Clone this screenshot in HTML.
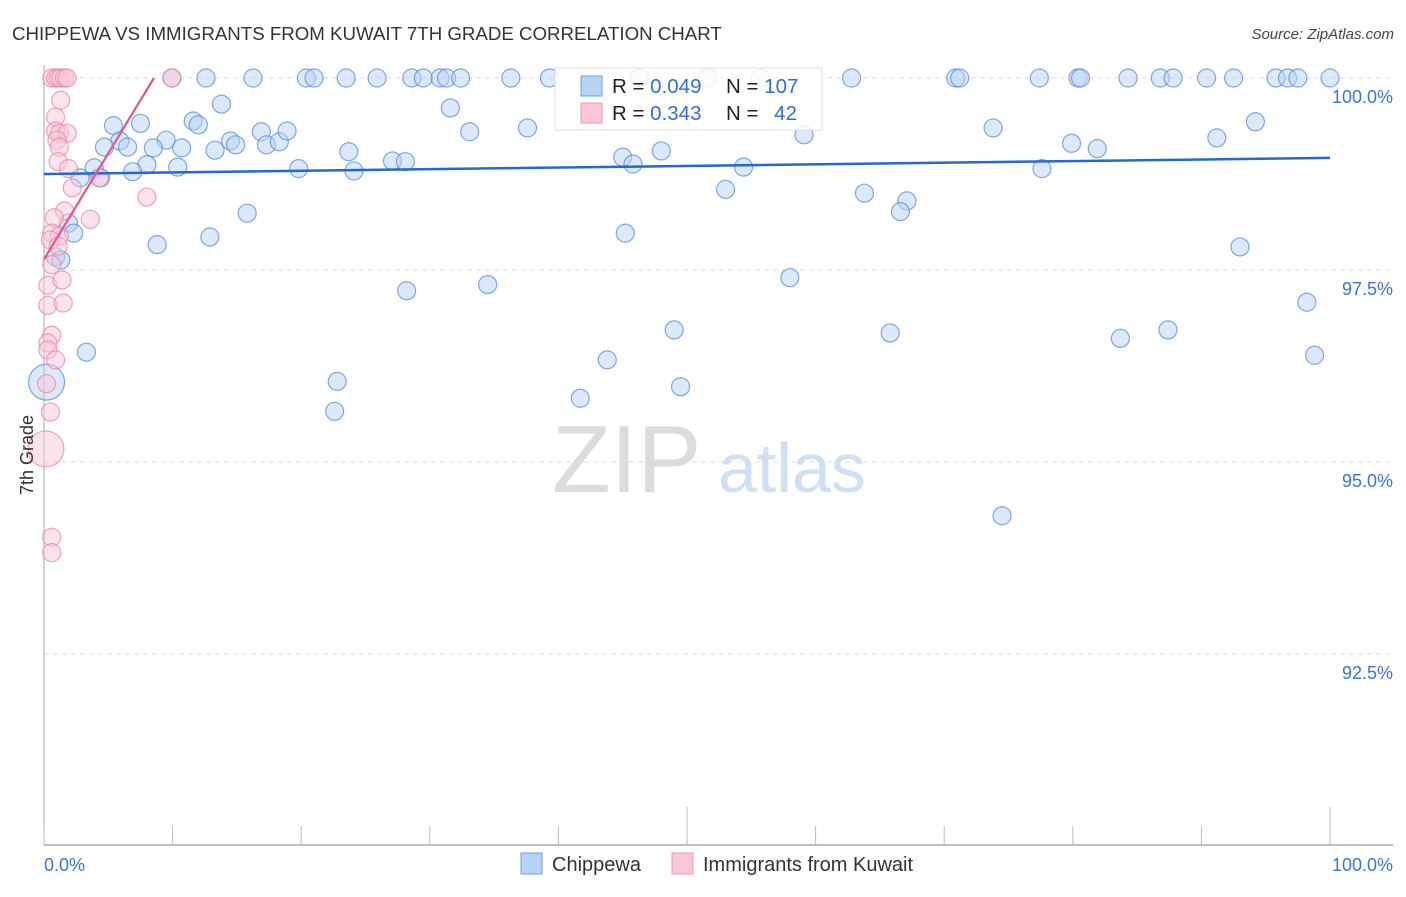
<!DOCTYPE html>
<html><head><meta charset="utf-8"><style>
body{margin:0;background:#fff;font-family:"Liberation Sans",sans-serif}
svg text{font-family:"Liberation Sans",sans-serif}
</style></head><body>
<svg id="chart" width="1406" height="892" viewBox="0 0 1406 892" xmlns="http://www.w3.org/2000/svg">
<text x="12" y="40" font-size="18.7" fill="#333">CHIPPEWA VS IMMIGRANTS FROM KUWAIT 7TH GRADE CORRELATION CHART</text>
<text x="1394" y="39" font-size="15" fill="#444" font-style="italic" text-anchor="end">Source: ZipAtlas.com</text>
<g>
<text x="552" y="492" font-size="96" font-family="Liberation Serif" fill="#dcdcdc">ZIP</text>
<text x="718" y="492" font-size="70" fill="#cfe0f5">atlas</text>
</g>
<g id="grid"></g>
<g id="axes"></g>
<g id="blue"></g>
<g id="pink"></g>
<g id="trends"></g>
<g>
<rect x="555" y="68" width="267" height="62" fill="#fff" fill-opacity="0.85" stroke="#ddd"/>
<rect x="581" y="76" width="21" height="20" fill="#b8d4f5" stroke="#6a9ee0"/>
<rect x="581" y="103" width="21" height="20" fill="#fcc8d8" stroke="#eb9ab3"/>
<text x="612" y="93" font-size="20.5" fill="#222">R = <tspan fill="#2f6fd6">0.049</tspan></text>
<text x="726" y="93" font-size="20.5" fill="#222">N = <tspan fill="#2f6fd6">107</tspan></text>
<text x="612" y="120" font-size="20.5" fill="#222">R = <tspan fill="#2f6fd6"> 0.343</tspan></text>
<text x="726" y="120" font-size="20.5" fill="#222">N = <tspan fill="#2f6fd6" dx="10">42</tspan></text>
</g>
<g>
<rect x="521" y="853" width="21" height="21" fill="#b8d4f5" stroke="#6a9ee0"/>
<text x="552" y="871" font-size="20" fill="#333">Chippewa</text>
<rect x="672" y="853" width="21" height="21" fill="#fcc8d8" stroke="#eb9ab3"/>
<text x="703" y="871" font-size="20" fill="#333">Immigrants from Kuwait</text>
</g>
<text transform="translate(33,455) rotate(-90)" font-size="18" fill="#333" text-anchor="middle">7th Grade</text>
</svg>
<script>
const yTicks=[100,97.5,95,92.5];
const yTickLabels=["100.0%","97.5%","95.0%","92.5%"];
const xTicks=[0,10,20,30,40,50,60,70,80,90,100];
const blueX=[9.95,12.6,16.25,20.4,21.0,23.5,25.9,28.6,29.5,30.8,31.3,32.4,36.3,39.3,46.3,51.6,55.7,62.8,70.9,71.2,77.4,80.4,80.6,84.3,86.8,87.8,90.4,92.5,95.8,96.7,97.5,100,
13.8,31.6,5.4,7.5,11.6,12.0,9.5,5.9,4.7,6.5,8.5,10.7,13.3,14.5,14.9,16.9,17.3,18.3,18.9,33.1,37.6,59.1,73.8,91.2,94.2,79.9,81.9,23.7,27.1,28.1,45.0,45.8,48.0,54.4,10.4,8.0,3.9,6.9,19.8,24.1,2.8,4.4,77.6,53.0,63.8,67.1,66.6,15.8,1.9,2.3,12.9,8.8,45.2,93.0,0.9,1.3,58.0,34.5,28.2,98.2,49.0,65.8,87.4,83.7,3.3,43.8,98.8,22.8,49.5,41.7,22.6,74.5,0.2];
const blueY=[100,100,100,100,100,100,100,100,100,100,100,100,100,100,100,100,100,100,100,100,100,100,100,100,100,100,100,100,100,100,100,100,
99.66,99.61,99.38,99.41,99.44,99.39,99.19,99.18,99.10,99.10,99.09,99.09,99.06,99.18,99.13,99.30,99.13,99.17,99.31,99.30,99.35,99.26,99.35,99.22,99.43,99.15,99.08,99.04,98.92,98.91,98.97,98.88,99.05,98.84,98.84,98.87,98.83,98.78,98.82,98.79,98.70,98.70,98.82,98.55,98.50,98.40,98.26,98.24,98.11,97.98,97.93,97.83,97.98,97.80,97.67,97.63,97.40,97.31,97.23,97.08,96.72,96.68,96.72,96.61,96.43,96.33,96.39,96.05,95.98,95.83,95.66,94.30,96.04];
const pinkX=[0.6,0.9,1.1,1.3,1.6,1.8,9.95,1.3,0.9,0.9,1.2,1.8,1.0,1.2,1.1,1.9,2.2,4.3,8.0,1.6,3.6,0.8,0.6,1.2,0.5,1.1,0.6,0.3,1.4,0.3,1.5,0.6,0.3,0.3,0.9,0.2,0.5,0.15,0.6,0.6];
const pinkY=[100,100,100,100,100,100,100,99.71,99.49,99.31,99.28,99.28,99.19,99.10,98.91,98.82,98.57,98.70,98.45,98.27,98.16,98.18,97.98,97.94,97.89,97.81,97.57,97.30,97.37,97.04,97.07,96.65,96.55,96.46,96.33,96.02,95.65,95.17,94.02,93.82];
const blueTrend=[98.75,98.96];
const pinkTrend=[[0,97.64],[8.55,100]];
const NS="http://www.w3.org/2000/svg";
const sx=v=>44+v*12.86, sy=v=>78+(100-v)*76.8;
function mk(t,a,p){const e=document.createElementNS(NS,t);for(const k in a)e.setAttribute(k,a[k]);p.appendChild(e);return e;}
const grid=document.getElementById('grid'),axes=document.getElementById('axes');
yTicks.forEach((t,i)=>{
 const l=mk('line',{x1:44,x2:1393,y1:sy(t),y2:sy(t),stroke:'#ddd','stroke-dasharray':'5,4'},grid);
 
 
 const tx=mk('text',{x:1393,y:sy(t)+25,'font-size':18,fill:'#3b73d6','text-anchor':'end'},axes);
 tx.textContent=yTickLabels[i];
 
 
});
mk('line',{x1:44,x2:44,y1:65,y2:845,stroke:'#aaa'},axes);
mk('line',{x1:44,x2:1393,y1:845,y2:845,stroke:'#aaa','stroke-width':1.5},axes);
xTicks.forEach(t=>{
 const l=mk('line',{x1:sx(t),x2:sx(t),y1:(t%50===0&&t>0)?807:826,y2:845,stroke:'#bbb'},axes);
 
 
});
const x0=mk('text',{x:44,y:871,'font-size':18,fill:'#3b73d6'},axes);x0.textContent="0.0%";
const x1=mk('text',{x:1393,y:871,'font-size':18,fill:'#3b73d6','text-anchor':'end'},axes);x1.textContent="100.0%";
function pts(X,Y,g,fill,stroke,name){
 X.forEach((x,i)=>{
  const big=(name==='chippewa-point'&&i===X.length-1)||(name==='kuwait-point'&&i===37);
  const c=mk('circle',{cx:sx(x),cy:sy(Y[i]),r:big?18:9,fill:fill,'fill-opacity':0.5,stroke:stroke,'stroke-opacity':0.7,'stroke-width':1.2},g);
  
  
 });
}
pts(blueX,blueY,document.getElementById('blue'),'#b8d4f5','#4a86dd','chippewa-point');
pts(pinkX,pinkY,document.getElementById('pink'),'#fcc8d8','#eb7fa0','kuwait-point');
const tr=document.getElementById('trends');
const bl=mk('line',{x1:sx(0),y1:sy(blueTrend[0]),x2:sx(100),y2:sy(blueTrend[1]),stroke:'#2369d4','stroke-width':2.5},tr);


const pl=mk('line',{x1:sx(pinkTrend[0][0]),y1:sy(pinkTrend[0][1]),x2:sx(pinkTrend[1][0]),y2:sy(pinkTrend[1][1]),stroke:'#e2588a','stroke-width':2.2},tr);


</script>
</body></html>
